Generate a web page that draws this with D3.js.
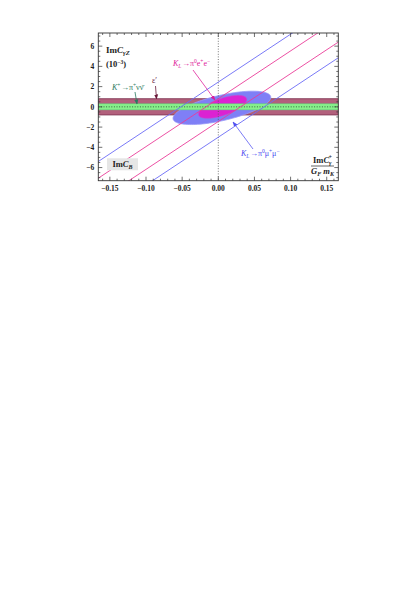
<!DOCTYPE html>
<html><head><meta charset="utf-8">
<script src="https://cdn.jsdelivr.net/npm/d3@7"></script>
<style>body{margin:0;background:#fff}svg{display:block}text{font-family:"Liberation Serif","Times New Roman",serif}</style>
</head><body>
<script>
// ---- data ----
const xDomain = [-0.166, 0.166];
const yDomain = [-7.3, 7.3];
const xTicks = [-0.15, -0.10, -0.05, 0.00, 0.05, 0.10, 0.15];
const xTickLabels = ["−0.15", "−0.10", "−0.05", "0.00", "0.05", "0.10", "0.15"];
const yTicks = [-6, -4, -2, 0, 2, 4, 6];
const yTickLabels = ["−6", "−4", "−2", "0", "2", "4", "6"];
// horizontal bands [lo, hi]
const epsBand = [-0.8, 0.8];          // ε'
const nuBand = [-0.3, 0.3];           // K+ -> pi+ nu nubar
// diagonal constraint lines: y = intercept + slope * x
const muLines = [{slope: 47.3, intercept: 2.45}, {slope: 47.3, intercept: -3.0}];
const eeLines = [{slope: 47.3, intercept: 0.8}, {slope: 47.3, intercept: -1.45}];
// ellipses: centre and two conjugate half-axis vectors (data units)
const muEllipse = {c: [0.005, -0.1], u: [0.0675, 1.11], v: [-0.004, 1.22]};
const eeEllipse = {c: [0.006, 0.0], u: [0.0331, 0.816], v: [-0.0038, 0.789]};

// ---- layout ----
const W = 420, H = 595;
const L = 98.3, R = 338.3, T = 33, B = 180.7;
const svg = d3.select("body").append("svg").attr("width", W).attr("height", H);
const x = d3.scaleLinear().domain(xDomain).range([L, R]);
const y = d3.scaleLinear().domain(yDomain).range([B, T]);

const defs = svg.append("defs");
defs.append("clipPath").attr("id", "clip").append("rect")
  .attr("x", L).attr("y", T).attr("width", R - L).attr("height", B - T);
function marker(id, color) {
  defs.append("marker").attr("id", id).attr("viewBox", "0 0 10 10")
    .attr("refX", 9).attr("refY", 5).attr("markerWidth", 5).attr("markerHeight", 5)
    .attr("orient", "auto").attr("markerUnits", "userSpaceOnUse")
    .append("path").attr("d", "M0,1 L10,5 L0,9 Z").attr("fill", color);
}
marker("mMag", "#d81c9c");
marker("mBlue", "#5050f0");
marker("mTeal", "#2a7a60");
marker("mEps", "#6a1a3a");

const g = svg.append("g").attr("clip-path", "url(#clip)");

// ε' band
g.append("rect").attr("x", L).attr("width", R - L)
  .attr("y", y(epsBand[1])).attr("height", y(epsBand[0]) - y(epsBand[1]))
  .attr("fill", "#b2607c").attr("stroke", "#7a2a4a").attr("stroke-width", 0.8);

// ellipses
function ellipsePts(e) {
  return d3.range(0, 361, 3).map(a => {
    const t = a * Math.PI / 180;
    return [e.c[0] + Math.cos(t) * e.u[0] + Math.sin(t) * e.v[0],
            e.c[1] + Math.cos(t) * e.u[1] + Math.sin(t) * e.v[1]];
  });
}
const lineGen = d3.line().x(d => x(d[0])).y(d => y(d[1]));
g.append("path").attr("d", lineGen(ellipsePts(muEllipse)) + "Z")
  .attr("fill", "#7f7ff6").attr("stroke", "#9a9af8").attr("stroke-width", 0.8);
g.append("path").attr("d", lineGen(ellipsePts(eeEllipse)) + "Z")
  .attr("fill", "#dc22d2").attr("stroke", "#c84ad0").attr("stroke-width", 0.6);

// ν band
g.append("rect").attr("x", L).attr("width", R - L)
  .attr("y", y(nuBand[1])).attr("height", y(nuBand[0]) - y(nuBand[1]))
  .attr("fill", "#86f08a").attr("stroke", "#5ccf7a").attr("stroke-width", 0.5);

// dotted axes
g.append("line").attr("x1", L).attr("x2", R).attr("y1", y(0)).attr("y2", y(0))
  .attr("stroke", "#2a5a3a").attr("stroke-width", 0.9).attr("stroke-dasharray", "1,1.6");
g.append("line").attr("x1", x(0)).attr("x2", x(0)).attr("y1", T).attr("y2", B)
  .attr("stroke", "#555").attr("stroke-width", 0.8).attr("stroke-dasharray", "1,1.6");

// diagonal lines
function diag(l) { return [[xDomain[0], l.intercept + l.slope * xDomain[0]], [xDomain[1], l.intercept + l.slope * xDomain[1]]]; }
muLines.forEach(l => g.append("path").attr("d", lineGen(diag(l))).attr("fill", "none")
  .attr("stroke", "#6b6bf6").attr("stroke-width", 0.9));
eeLines.forEach(l => g.append("path").attr("d", lineGen(diag(l))).attr("fill", "none")
  .attr("stroke", "#ea3c98").attr("stroke-width", 0.9));

// frame & ticks
const frame = svg.append("g");
frame.append("rect").attr("x", L).attr("y", T).attr("width", R - L).attr("height", B - T)
  .attr("fill", "none").attr("stroke", "#333").attr("stroke-width", 0.9);
const xMinor = d3.range(-16, 17).map(i => i * 0.01);
const yMinor = d3.range(-14, 15).map(i => i * 0.5);
xMinor.forEach(v => {
  const major = Math.abs(Math.round(v * 100)) % 5 === 0;
  const len = major ? 4 : 2;
  frame.append("line").attr("x1", x(v)).attr("x2", x(v)).attr("y1", B).attr("y2", B - len).attr("stroke", "#333").attr("stroke-width", 0.7);
  frame.append("line").attr("x1", x(v)).attr("x2", x(v)).attr("y1", T).attr("y2", T + len).attr("stroke", "#333").attr("stroke-width", 0.7);
});
yMinor.forEach(v => {
  const major = Math.abs(Math.round(v * 2)) % 4 === 0;
  const len = major ? 4 : 2;
  frame.append("line").attr("y1", y(v)).attr("y2", y(v)).attr("x1", L).attr("x2", L + len).attr("stroke", "#333").attr("stroke-width", 0.7);
  frame.append("line").attr("y1", y(v)).attr("y2", y(v)).attr("x1", R).attr("x2", R - len).attr("stroke", "#333").attr("stroke-width", 0.7);
});
xTicks.forEach((v, i) => frame.append("text").attr("x", x(v)).attr("y", B + 10)
  .attr("text-anchor", "middle").attr("font-size", 7.5).attr("font-weight", "bold").attr("fill", "#222").text(xTickLabels[i]));
yTicks.forEach((v, i) => frame.append("text").attr("x", L - 4).attr("y", y(v) + 2.7)
  .attr("text-anchor", "end").attr("font-size", 7.5).attr("font-weight", "bold").attr("fill", "#222").text(yTickLabels[i]));

// y label
const yl = svg.append("text").attr("x", 106).attr("y", 53).attr("font-size", 9).attr("font-weight", "bold").attr("fill", "#222");
yl.append("tspan").text("Im");
yl.append("tspan").attr("font-style", "italic").text("C");
yl.append("tspan").attr("font-style", "italic").attr("font-size", 6.5).attr("dy", 2).text("γZ");
const yu = svg.append("text").attr("x", 106).attr("y", 67).attr("font-size", 8.5).attr("font-weight", "bold").attr("fill", "#222");
yu.append("tspan").text("(10");
yu.append("tspan").attr("font-size", 5.5).attr("dy", -3.5).text("−3");
yu.append("tspan").attr("dy", 3.5).text(")");

// x label fraction
const xl = svg.append("text").attr("x", 322.5).attr("y", 163).attr("text-anchor", "middle").attr("font-size", 8.5).attr("font-weight", "bold").attr("fill", "#222");
xl.append("tspan").text("Im");
xl.append("tspan").attr("font-style", "italic").text("C");
xl.append("tspan").attr("font-style", "italic").attr("font-size", 6).attr("dy", 2).text("γ");
xl.append("tspan").attr("font-size", 6).attr("dx", -3).attr("dy", -6).text("+");
svg.append("line").attr("x1", 311).attr("x2", 334).attr("y1", 166).attr("y2", 166).attr("stroke", "#222").attr("stroke-width", 0.7);
const xd = svg.append("text").attr("x", 322.5).attr("y", 174).attr("text-anchor", "middle").attr("font-size", 8.5).attr("font-weight", "bold").attr("font-style", "italic").attr("fill", "#222");
xd.append("tspan").text("G");
xd.append("tspan").attr("font-size", 6).attr("dy", 2).text("F");
xd.append("tspan").attr("dy", -2).text(" m");
xd.append("tspan").attr("font-size", 6).attr("dy", 2).text("K");

// ImC_B box
svg.append("rect").attr("x", 107).attr("y", 158.3).attr("width", 31).attr("height", 12).attr("fill", "#e6e6e6");
const cb = svg.append("text").attr("x", 122.5).attr("y", 167).attr("text-anchor", "middle").attr("font-size", 8.5).attr("font-weight", "bold").attr("fill", "#222");
cb.append("tspan").text("Im");
cb.append("tspan").attr("font-style", "italic").text("C");
cb.append("tspan").attr("font-style", "italic").attr("font-size", 6).attr("dy", 2).text("B");

// annotations
function decay(xp, yp, color, parts) {
  const t = svg.append("text").attr("x", xp).attr("y", yp).attr("font-size", 8).attr("fill", color);
  parts.forEach(p => {
    const s = t.append("tspan").text(p.t);
    if (p.i) s.attr("font-style", "italic");
    if (p.fs) s.attr("font-size", p.fs);
    if (p.dy) s.attr("dy", p.dy);
    if (p.dx) s.attr("dx", p.dx);
  });
}
// K+ -> pi+ nu nubar
decay(112, 90, "#2a7a60", [{t: "K", i: true}, {t: "+", fs: 5.5, dy: -3}, {t: "→π", dy: 3, dx: 0.5}, {t: "+", fs: 5.5, dy: -3}, {t: "νν̄", dy: 3}]);
svg.append("line").attr("x1", 135).attr("y1", 92).attr("x2", 137).attr("y2", 104)
  .attr("stroke", "#2a7a60").attr("stroke-width", 0.8).attr("marker-end", "url(#mTeal)");
// epsilon'
svg.append("text").attr("x", 152).attr("y", 83).attr("font-size", 8).attr("fill", "#6a1a3a").text("ε′");
svg.append("line").attr("x1", 155.5).attr("y1", 86).attr("x2", 156.5).attr("y2", 99)
  .attr("stroke", "#6a1a3a").attr("stroke-width", 0.8).attr("marker-end", "url(#mEps)");
// KL -> pi0 e+ e-
decay(173, 66, "#e0249c", [{t: "K", i: true}, {t: "L", i: true, fs: 5.5, dy: 2}, {t: "→π", dy: -2, dx: 0.5}, {t: "0", fs: 5.5, dy: -3}, {t: "e", dy: 3}, {t: "+", fs: 5.5, dy: -3}, {t: "e", dy: 3}, {t: "−", fs: 5.5, dy: -3}]);
svg.append("line").attr("x1", 193).attr("y1", 70).attr("x2", 215).attr("y2", 100)
  .attr("stroke", "#e0249c").attr("stroke-width", 0.8).attr("marker-end", "url(#mMag)");
// KL -> pi0 mu+ mu-
decay(241, 156, "#4a4af0", [{t: "K", i: true}, {t: "L", i: true, fs: 5.5, dy: 2}, {t: "→π", dy: -2, dx: 0.5}, {t: "0", fs: 5.5, dy: -3}, {t: "μ", dy: 3}, {t: "+", fs: 5.5, dy: -3}, {t: "μ", dy: 3}, {t: "−", fs: 5.5, dy: -3}]);
svg.append("line").attr("x1", 253).attr("y1", 149).attr("x2", 233).attr("y2", 122)
  .attr("stroke", "#5a5af2").attr("stroke-width", 0.8).attr("marker-end", "url(#mBlue)");
</script>
</body></html>
